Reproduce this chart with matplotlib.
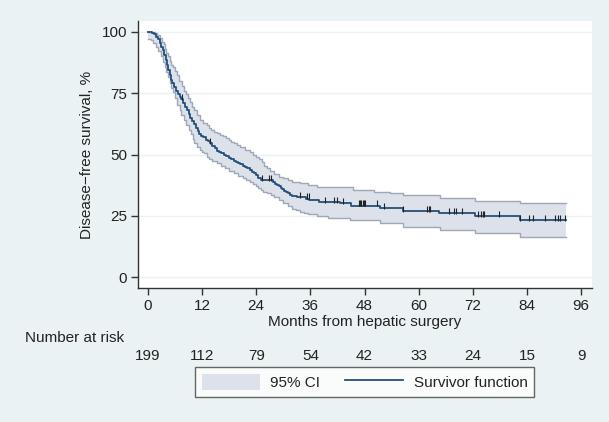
import numpy as np
import matplotlib.pyplot as plt
from matplotlib.patches import Patch
from matplotlib.lines import Line2D
import matplotlib.transforms as mtransforms

plt.rcParams['font.family'] = ['Liberation Sans', 'DejaVu Sans']

# ------------------------------
# Datos
# ------------------------------
km_t = [0, 0.8, 1.3, 1.8, 2.2, 2.6, 3.0, 3.3, 3.6, 3.9, 4.2, 4.5, 4.8, 5.1, 5.4,
        5.8, 6.2, 6.6, 7.0, 7.4, 7.8, 8.2, 8.6, 9.0, 9.4, 9.8, 10.2, 10.6, 11.0,
        11.4, 11.8, 12.3, 12.8, 13.3, 13.8, 14.3, 14.8, 15.2, 15.8, 16.3, 16.9,
        17.4, 18.0, 18.5, 19.0, 19.5, 20.0, 20.5, 21.0, 21.5, 22.0, 22.6, 23.0,
        23.5, 24.0, 24.5, 25.0, 27.8, 28.2, 28.6, 29.0, 29.4, 29.8, 30.2, 30.6,
        31.0, 31.5, 32.0, 33.0, 35.0, 35.8, 38.0, 42.6, 45.0, 51.4, 56.6, 64.5,
        72.5, 82.5, 92.7]
km_s = [100, 99.5, 99, 98, 97, 95.5, 94, 92.5, 90.5, 88.5, 86.5, 84.5, 82.5, 80.5, 79,
        77.5, 76, 74.5, 73.5, 72.5, 71, 69.5, 68, 66.5, 65, 63.5, 62.5, 61, 59.5,
        58.5, 57.5, 57, 56, 55.5, 54.5, 53.5, 52.5, 51.5, 51, 50.5, 50,
        49.5, 48.5, 48, 47.5, 47, 46.5, 46, 45.5, 45, 44.5, 43.7, 43,
        42.5, 41.5, 40.5, 39.6, 38.7, 38, 37.5, 37, 36.5, 36, 35.3, 34.7,
        34.2, 33.5, 33.0, 32.6, 32.0, 31.3, 30.6, 30.1, 29.2, 28.3, 27.1, 26.1,
        25.0, 23.3, 23.3]

up_t = [0, 1.5, 2.0, 2.7, 3.1, 3.5, 3.8, 4.1, 4.5, 4.9, 5.2, 5.5, 5.9, 6.4, 6.9,
        7.5, 8.0, 8.5, 8.9, 9.3, 9.8, 10.3, 10.9, 11.5, 12.2, 13.0, 13.5, 14.0,
        14.6, 15.2, 16.0, 16.7, 17.3, 18.0, 18.5, 19.0, 19.8, 20.5, 21.5, 22.6,
        23.3, 24.0, 24.6, 25.2, 25.8, 26.3, 27.0, 28.0, 29.0, 30.0, 31.0, 32.0,
        33.0, 33.7, 35.5, 37.4, 42.6, 45.5, 50.0, 53.7, 56.6, 64.7, 72.5, 82.5, 92.7]
up_s = [100, 99.5, 98.5, 97.3, 96, 95, 93, 91.5, 90, 88, 86.5, 85.5, 84, 82.4, 80,
        78, 76, 74.5, 73, 71.5, 69.5, 68, 66, 64, 63, 62, 61, 60,
        59.3, 58.6, 58, 57.5, 56.7, 56, 55.3, 54.6, 53.8, 53, 52, 51.1,
        50, 49, 48, 47, 45.5, 44.4, 43.3, 42, 41, 40.3, 39.6, 39,
        38.6, 38.3, 37.6, 36.9, 36.6, 35.5, 34.9, 34.2, 33.5, 32.2, 31.0, 30.1, 30.1]

lo_t = [0, 0.6, 1.2, 1.7, 2.2, 2.8, 3.4, 3.8, 4.1, 4.5, 4.9, 5.2, 5.6, 6.0, 6.5,
        7.0, 7.4, 8.0, 8.5, 9.0, 9.5, 9.9, 10.3, 10.9, 11.5, 12.0, 12.5, 13.0,
        13.5, 14.3, 15.2, 16.1, 17.0, 18.0, 19.0, 20.0, 21.0, 21.8, 22.6, 23.3,
        24.0, 24.5, 25.0, 25.6, 26.3, 27.2, 28.0, 29.0, 30.0, 31.0, 32.0, 32.8,
        33.7, 34.6, 35.5, 37.4, 40.0, 44.8, 47.0, 51.4, 56.6, 64.7, 72.5, 82.5, 92.7]
lo_s = [97, 96.5, 95.5, 94, 92, 90, 87.8, 85.5, 83.5, 81.7, 79, 77, 75.6, 73, 70,
        68, 66, 64, 62, 60, 58.5, 56.5, 54.5, 53, 51.8, 51, 50.5, 49,
        48, 47.2, 46.4, 45.5, 44.5, 43.4, 42.3, 41.4, 40.5, 39.7, 38.9, 38,
        37, 36.2, 35.5, 34.8, 34.2, 33.3, 32.5, 31.3, 30.1, 29, 28, 27.3,
        26.7, 26.2, 25.8, 25, 24.3, 23.5, 23.3, 22, 20.6, 19.3, 18.2, 16.5, 16.5]

censor_t = [7.5, 13.8, 25.3, 26.8, 27.3, 33.7, 35.3, 35.7, 39.2, 41.2, 41.8, 43.2,
            46.8, 47.0, 47.3, 47.6, 47.9, 48.2, 50.8, 52.4, 56.6, 61.8, 62.3, 62.6,
            66.8, 67.8, 68.2, 69.5, 73.2, 73.9, 74.2, 74.5, 77.7, 82.5, 84.5, 85.3,
            88.0, 90.3, 90.8, 91.4, 92.5]

risk_months = [0, 12, 24, 36, 48, 60, 72, 84, 96]
risk_n = [199, 112, 79, 54, 42, 33, 24, 15, 9]

# ------------------------------
# Figura
# ------------------------------
bg = "#EAF2F3"
navy = "#24507A"
fs = 11
fig = plt.figure(figsize=(6.09, 4.22), dpi=100, facecolor=bg)
ax = fig.add_axes([0.2266, 0.3175, 0.7455, 0.6327])
ax.set_facecolor("white")

# banda IC: polígono escalonado entre ambos límites
ut = np.repeat(up_t, 2)[1:]
us = np.repeat(up_s, 2)[:-1]
lt = np.repeat(lo_t, 2)[1:]
ls = np.repeat(lo_s, 2)[:-1]
poly_x = np.concatenate([ut, lt[::-1]])
poly_y = np.concatenate([us, ls[::-1]])
ax.fill(poly_x, poly_y, facecolor="#DCE1EA", edgecolor="none", zorder=2)
ax.step(up_t, up_s, where="post", color="#9EA8B6", lw=1.0, zorder=3)
ax.step(lo_t, lo_s, where="post", color="#9EA8B6", lw=1.0, zorder=3)
ax.step(km_t, km_s, where="post", color=navy, lw=1.3, zorder=4)

# marcas de censura
idx = np.searchsorted(km_t, censor_t, side="right") - 1
cens_s = np.array(km_s)[idx]
ax.scatter(censor_t, cens_s + 0.9, marker="|", s=22, color="#222222",
           linewidths=0.8, zorder=5)

ax.set_xlim(-2.2, 98.4)
ax.set_ylim(-4.4, 104.4)
ax.set_xticks(risk_months)
ax.set_yticks([0, 25, 50, 75, 100])
ax.yaxis.grid(True, color=bg, lw=1.0)
ax.set_axisbelow(True)
for s in ["top", "right"]:
    ax.spines[s].set_visible(False)
for s in ["left", "bottom"]:
    ax.spines[s].set_color("#333333")
    ax.spines[s].set_linewidth(1.0)
ax.tick_params(axis="both", length=5, width=1.0, color="#333333",
               labelsize=fs, labelcolor="#222222", pad=3)
ax.set_xlabel("Months from hepatic surgery", fontsize=fs, color="#222222", labelpad=1)
ax.set_ylabel("Disease\u2212free survival, %", fontsize=fs, color="#222222", labelpad=5)

# número en riesgo
tr = mtransforms.blended_transform_factory(ax.transData, fig.transFigure)
fig.text(0.041, 1 - 338 / 422, "Number at risk", fontsize=fs, color="#222222",
         ha="left", va="center")
for m, n in zip(risk_months, risk_n):
    ax.text(m, 1 - 356 / 422, str(n), transform=tr, fontsize=fs,
            color="#222222", ha="center", va="center")

handles = [Patch(facecolor="#DCE1EA", edgecolor="none"),
           Line2D([0], [0], color=navy, lw=1.3)]
leg = fig.legend(handles, ["95% CI", "Survivor function"], loc="center",
                 bbox_to_anchor=(0.5985, 1 - 382 / 422), ncol=2, frameon=True,
                 fancybox=False, edgecolor="#404040", facecolor="white",
                 fontsize=fs, handlelength=3.8, handleheight=1.3,
                 handletextpad=0.7, columnspacing=1.6, borderpad=0.45)
leg.get_frame().set_linewidth(1.0)
for t in leg.get_texts():
    t.set_color("#222222")

fig.savefig("out.png", dpi=100, facecolor=bg)
